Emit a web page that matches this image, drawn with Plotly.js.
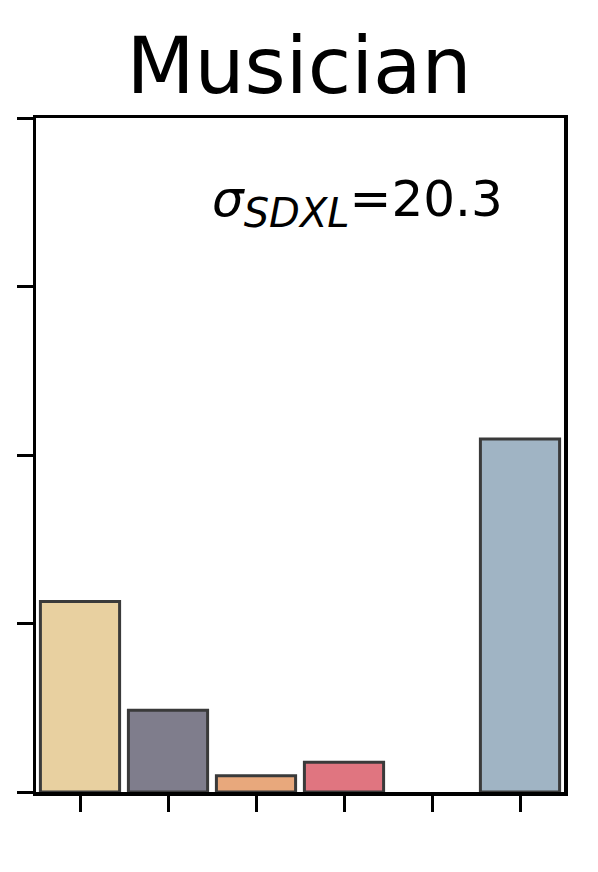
<!DOCTYPE html>
<html>
<head>
<meta charset="utf-8">
<script src="https://cdn.plot.ly/plotly-3.0.1.min.js"></script>
<style>html,body{margin:0;padding:0;background:#fff;}#chart{width:598px;height:872px;}</style>
</head>
<body>
<div id="chart"></div>
<script>
// Data
const categories = ['Cat 1', 'Cat 2', 'Cat 3', 'Cat 4', 'Cat 5', 'Cat 6'];
const values = [11.3, 4.85, 0.97, 1.76, 0, 20.95];
const barColors = ['#E8D0A0', '#7F7D8C', '#E8A87C', '#E07580', '#CCCCCC', '#A0B4C4'];
const yTicks = [0, 10, 20, 30, 40];
const chartTitle = 'Musician';
const sigmaLabel = '<i>σ</i><sub><span style="font-size:40px"><i>SDXL</i></span></sub>=20.3';

const lineWidths = values.map(v => v > 0 ? 3 : 0);

const trace = {
  type: 'bar',
  x: categories,
  y: values,
  width: 0.9,
  marker: {
    color: barColors,
    line: {color: '#3a3a3a', width: lineWidths}
  },
  hoverinfo: 'skip'
};

const layout = {
  width: 598,
  height: 872,
  margin: {l: 36, r: 34, t: 118, b: 80},
  paper_bgcolor: '#ffffff',
  plot_bgcolor: '#ffffff',
  showlegend: false,
  font: {family: 'DejaVu Sans', color: '#000'},
  title: {
    text: chartTitle,
    font: {family: 'DejaVu Sans', size: 79, color: '#000'},
    x: 0.5, xanchor: 'center', xref: 'container',
    y: 0.9255, yanchor: 'middle', yref: 'container'
  },
  xaxis: {
    type: 'category',
    range: [-0.5, 5.5],
    showticklabels: false,
    ticks: 'outside', ticklen: 16, tickwidth: 3, tickcolor: '#000',
    showline: true, linecolor: '#000', linewidth: 3.5, mirror: true,
    showgrid: false, zeroline: false, fixedrange: true
  },
  yaxis: {
    range: [0, 40],
    tickvals: yTicks,
    showticklabels: false,
    ticks: 'outside', ticklen: 16, tickwidth: 3, tickcolor: '#000',
    showline: true, linecolor: '#000', linewidth: 3.5, mirror: true,
    showgrid: false, zeroline: false, fixedrange: true
  },
  annotations: [{
    text: sigmaLabel,
    xref: 'paper', yref: 'paper',
    x: 0.33, y: 0.874,
    xanchor: 'left', yanchor: 'middle',
    showarrow: false,
    font: {family: 'DejaVu Sans', size: 50, color: '#000'}
  }]
};

Plotly.newPlot('chart', [trace], layout, {staticPlot: true, displayModeBar: false});
</script>
</body>
</html>
